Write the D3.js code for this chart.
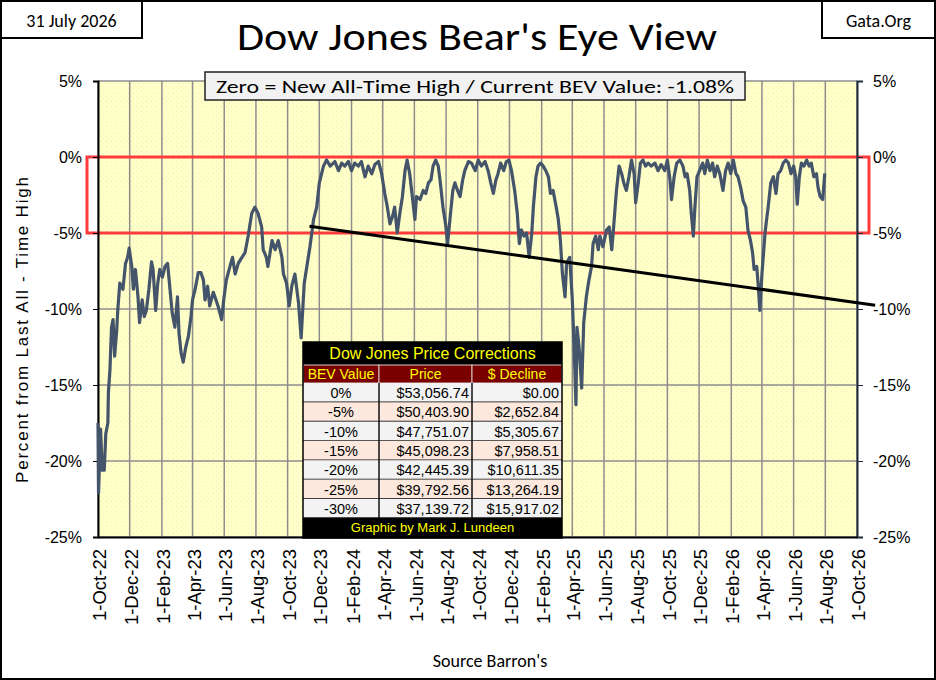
<!DOCTYPE html>
<html>
<head>
<meta charset="utf-8">
<script src="https://cdn.jsdelivr.net/npm/d3@7"></script>
<style>
  html, body { margin: 0; padding: 0; background: #fff; }
  svg { display: block; }
</style>
</head>
<body>
<svg id="chart" width="936" height="680"></svg>
<script>
// Bear's Eye View: percent below last all-time high
const bev2022 = [
  ["2022-10-01", -17.5], ["2022-10-02", -22.1], ["2022-10-06", -17.9], ["2022-10-09", -20.6],
  ["2022-10-13", -20.6], ["2022-10-16", -18.2], ["2022-10-20", -17.5], ["2022-10-21", -15.5],
  ["2022-10-24", -14.0], ["2022-10-27", -11.2], ["2022-10-30", -10.7], ["2022-11-02", -13.1],
  ["2022-11-06", -11.4], ["2022-11-08", -10.1], ["2022-11-12", -8.3], ["2022-11-18", -8.7],
  ["2022-11-23", -7.0], ["2022-11-27", -6.6], ["2022-11-30", -6.0], ["2022-12-05", -7.2],
  ["2022-12-08", -8.7], ["2022-12-12", -7.4], ["2022-12-17", -9.2], ["2022-12-20", -10.9],
  ["2022-12-25", -9.4], ["2022-12-29", -10.5]
];
const bev2023 = [
  ["2023-01-02", -10.1], ["2023-01-07", -8.7], ["2023-01-12", -6.9], ["2023-01-15", -7.4],
  ["2023-01-20", -10.1], ["2023-01-24", -8.3], ["2023-01-28", -7.4], ["2023-02-02", -7.9],
  ["2023-02-07", -7.2], ["2023-02-12", -7.0], ["2023-02-16", -8.5], ["2023-02-21", -10.3],
  ["2023-02-26", -11.2], ["2023-03-03", -9.2], ["2023-03-06", -11.6], ["2023-03-10", -12.9],
  ["2023-03-14", -13.5], ["2023-03-19", -12.5], ["2023-03-24", -11.8], ["2023-03-29", -10.5],
  ["2023-04-01", -9.4], ["2023-04-06", -8.7], ["2023-04-12", -7.6], ["2023-04-17", -7.6],
  ["2023-04-22", -8.1], ["2023-04-25", -9.4], ["2023-04-30", -8.5], ["2023-05-04", -9.8],
  ["2023-05-11", -8.9], ["2023-05-14", -9.2], ["2023-05-20", -9.8], ["2023-05-27", -10.7],
  ["2023-05-31", -9.4], ["2023-06-05", -8.1], ["2023-06-12", -7.2], ["2023-06-17", -6.6],
  ["2023-06-22", -7.7], ["2023-06-28", -7.0], ["2023-07-05", -6.6], ["2023-07-11", -6.3],
  ["2023-07-17", -5.2], ["2023-07-24", -3.7], ["2023-07-30", -3.3], ["2023-08-05", -3.7],
  ["2023-08-12", -4.6], ["2023-08-15", -6.1], ["2023-08-21", -6.6], ["2023-08-24", -7.2],
  ["2023-09-01", -5.5], ["2023-09-07", -6.1], ["2023-09-13", -5.5], ["2023-09-20", -6.6],
  ["2023-09-23", -7.7], ["2023-09-29", -8.3], ["2023-10-04", -9.8], ["2023-10-09", -8.5],
  ["2023-10-15", -7.7], ["2023-10-22", -9.6], ["2023-10-27", -11.9], ["2023-11-02", -8.3],
  ["2023-11-07", -7.2], ["2023-11-13", -5.9], ["2023-11-20", -4.1], ["2023-11-26", -3.3],
  ["2023-12-01", -1.7], ["2023-12-09", -0.6], ["2023-12-15", -0.2], ["2023-12-22", -0.6],
  ["2023-12-31", -0.3]
];
const bev2024 = [
  ["2024-01-07", -0.9], ["2024-01-13", -0.4], ["2024-01-19", -0.6], ["2024-01-26", -0.3],
  ["2024-02-01", -0.9], ["2024-02-07", -0.4], ["2024-02-14", -0.6], ["2024-02-20", -0.3],
  ["2024-02-27", -1.3], ["2024-03-04", -0.6], ["2024-03-11", -1.1], ["2024-03-17", -0.5],
  ["2024-03-24", -0.3], ["2024-03-30", -1.1], ["2024-04-05", -2.4], ["2024-04-10", -3.3],
  ["2024-04-15", -4.4], ["2024-04-20", -3.9], ["2024-04-24", -3.3], ["2024-04-29", -5.0],
  ["2024-05-04", -3.7], ["2024-05-09", -2.6], ["2024-05-14", -0.9], ["2024-05-18", -0.2],
  ["2024-05-23", -1.1], ["2024-05-28", -2.6], ["2024-06-02", -4.1], ["2024-06-05", -2.6],
  ["2024-06-12", -2.8], ["2024-06-18", -2.2], ["2024-06-23", -2.4], ["2024-06-28", -1.7],
  ["2024-07-03", -1.5], ["2024-07-07", -0.6], ["2024-07-12", -0.2], ["2024-07-17", -0.6],
  ["2024-07-21", -1.7], ["2024-07-26", -3.3], ["2024-07-31", -4.4], ["2024-08-04", -5.7],
  ["2024-08-09", -3.9], ["2024-08-14", -2.2], ["2024-08-18", -1.7], ["2024-08-23", -2.2],
  ["2024-08-28", -2.6], ["2024-09-02", -1.5], ["2024-09-06", -0.9], ["2024-09-13", -0.3],
  ["2024-09-19", -0.4], ["2024-09-26", -0.9], ["2024-10-02", -0.2], ["2024-10-08", -0.6],
  ["2024-10-15", -0.3], ["2024-10-21", -0.9], ["2024-10-26", -1.7], ["2024-10-31", -2.4],
  ["2024-11-05", -1.5], ["2024-11-09", -1.1], ["2024-11-14", -0.4], ["2024-11-20", -0.9],
  ["2024-11-25", -0.3], ["2024-11-30", -0.2], ["2024-12-05", -0.9], ["2024-12-11", -2.2],
  ["2024-12-16", -3.7], ["2024-12-20", -5.7], ["2024-12-24", -4.8], ["2024-12-29", -5.2]
];
const bev2025 = [
  ["2025-01-03", -5.0], ["2025-01-08", -6.6], ["2025-01-13", -5.0], ["2025-01-16", -3.3],
  ["2025-01-21", -1.3], ["2025-01-25", -0.6], ["2025-01-30", -0.4], ["2025-02-04", -0.6],
  ["2025-02-09", -0.9], ["2025-02-14", -1.3], ["2025-02-18", -2.4], ["2025-02-23", -2.2],
  ["2025-03-01", -3.3], ["2025-03-05", -4.1], ["2025-03-09", -5.5], ["2025-03-13", -7.7],
  ["2025-03-18", -9.2], ["2025-03-21", -7.0], ["2025-03-27", -6.6], ["2025-04-01", -9.4],
  ["2025-04-04", -12.0], ["2025-04-08", -16.3], ["2025-04-10", -11.2], ["2025-04-14", -12.5],
  ["2025-04-19", -15.2], ["2025-04-23", -10.9], ["2025-04-28", -9.2], ["2025-05-03", -8.1],
  ["2025-05-08", -7.2], ["2025-05-11", -5.7], ["2025-05-16", -5.2], ["2025-05-21", -6.1],
  ["2025-05-24", -5.2], ["2025-05-30", -5.9], ["2025-06-06", -4.8], ["2025-06-11", -4.6],
  ["2025-06-16", -6.1], ["2025-06-20", -4.4], ["2025-06-25", -2.2], ["2025-06-30", -0.6],
  ["2025-07-05", -1.1], ["2025-07-09", -1.7], ["2025-07-14", -2.2], ["2025-07-19", -1.3],
  ["2025-07-24", -0.2], ["2025-07-29", -1.1], ["2025-08-01", -3.0], ["2025-08-06", -1.7],
  ["2025-08-10", -0.4], ["2025-08-15", -0.2], ["2025-08-20", -0.6], ["2025-08-25", -0.4],
  ["2025-08-31", -0.6], ["2025-09-07", -0.4], ["2025-09-13", -0.9], ["2025-09-19", -0.5],
  ["2025-09-26", -0.9], ["2025-10-01", -0.2], ["2025-10-06", -1.5], ["2025-10-09", -2.8],
  ["2025-10-14", -1.3], ["2025-10-19", -0.4], ["2025-10-25", -0.2], ["2025-10-31", -0.6],
  ["2025-11-04", -1.3], ["2025-11-08", -1.1], ["2025-11-13", -2.2], ["2025-11-16", -3.7],
  ["2025-11-20", -5.2], ["2025-11-23", -3.3], ["2025-11-27", -1.3], ["2025-12-02", -0.9],
  ["2025-12-08", -0.4], ["2025-12-12", -1.1], ["2025-12-17", -0.2], ["2025-12-22", -0.9],
  ["2025-12-27", -0.4], ["2025-12-31", -1.3]
];
const bev2026 = [
  ["2026-01-05", -0.6], ["2026-01-10", -1.1], ["2026-01-16", -2.2], ["2026-01-21", -0.9],
  ["2026-01-26", -0.4], ["2026-01-31", -1.1], ["2026-02-05", -0.2], ["2026-02-10", -1.1],
  ["2026-02-14", -1.3], ["2026-02-19", -2.0], ["2026-02-24", -2.9], ["2026-03-01", -3.3],
  ["2026-03-05", -4.8], ["2026-03-10", -5.5], ["2026-03-14", -6.3], ["2026-03-17", -7.4],
  ["2026-03-22", -7.2], ["2026-03-25", -8.5], ["2026-03-28", -10.1], ["2026-04-01", -7.7],
  ["2026-04-03", -6.8], ["2026-04-07", -5.0], ["2026-04-10", -4.1], ["2026-04-13", -3.3],
  ["2026-04-18", -1.7], ["2026-04-23", -1.3], ["2026-04-28", -2.4], ["2026-05-02", -1.1],
  ["2026-05-07", -0.9], ["2026-05-12", -0.4], ["2026-05-17", -0.2], ["2026-05-22", -0.4],
  ["2026-05-27", -1.1], ["2026-06-01", -0.6], ["2026-06-05", -1.3], ["2026-06-08", -3.1],
  ["2026-06-12", -1.3], ["2026-06-16", -0.4], ["2026-06-21", -0.6], ["2026-06-26", -0.2],
  ["2026-07-01", -0.6], ["2026-07-05", -0.4], ["2026-07-10", -1.3], ["2026-07-15", -1.1],
  ["2026-07-18", -2.0], ["2026-07-22", -2.6], ["2026-07-27", -2.8], ["2026-07-31", -1.08]
];

// black trend line, two end points
const trendDates = ["2023-11-12", "2026-11-05"];
const trendValues = [-4.55, -9.75];

// axis settings
const axisStart = "2022-10-01";
const axisEnd = "2026-10-01";
const yTicks = [5, 0, -5, -10, -15, -20, -25];

// price corrections table
const bevLevels = ["0%", "-5%", "-10%", "-15%", "-20%", "-25%", "-30%"];
const bevPrices = ["$53,056.74", "$50,403.90", "$47,751.07", "$45,098.23", "$42,445.39", "$39,792.56", "$37,139.72"];
const bevDeclines = ["$0.00", "$2,652.84", "$5,305.67", "$7,958.51", "$10,611.35", "$13,264.19", "$15,917.02"];
const tableHeader = ["BEV Value", "Price", "$ Decline"];

const parse = d3.timeParse("%Y-%m-%d");
const series = [].concat(bev2022, bev2023, bev2024, bev2025, bev2026)
  .map(([d, v]) => ({ date: parse(d), value: v }));

const W = 936, H = 680;
const plot = { left: 98, right: 857, top: 81, bottom: 537 };
const calibri = "Carlito, Lato, 'Open Sans', sans-serif";
const arial = "'Liberation Sans', Arial, sans-serif";

const svg = d3.select("#chart");

const x = d3.scaleTime()
  .domain([parse(axisStart), parse(axisEnd)])
  .range([plot.left, plot.right]);
const y = d3.scaleLinear().domain([-25, 5]).range([plot.bottom, plot.top]);

// faint stipple like the spreadsheet's plot fill
const defs = svg.append("defs");
const dots = defs.append("pattern")
  .attr("id", "dots")
  .attr("width", 5)
  .attr("height", 5)
  .attr("patternUnits", "userSpaceOnUse");
dots.append("rect").attr("width", 5).attr("height", 5).attr("fill", "#FFFFC8");
dots.append("rect").attr("x", 1).attr("y", 1).attr("width", 1).attr("height", 1).attr("fill", "#F1EABD");
dots.append("rect").attr("x", 3).attr("y", 3).attr("width", 1).attr("height", 1).attr("fill", "#F4EEC4");

// outer frame
svg.append("rect")
  .attr("x", 1).attr("y", 1)
  .attr("width", W - 2).attr("height", H - 2)
  .attr("fill", "#fff")
  .attr("stroke", "#000")
  .attr("stroke-width", 2);

// corner boxes
function cornerBox(x0, w, label) {
  svg.append("rect")
    .attr("x", x0).attr("y", 1)
    .attr("width", w).attr("height", 37)
    .attr("fill", "#fff")
    .attr("stroke", "#000")
    .attr("stroke-width", 2);
  svg.append("text")
    .attr("x", x0 + w / 2).attr("y", 27)
    .attr("text-anchor", "middle")
    .style("font-family", calibri)
    .style("font-size", "18px")
    .text(label);
}
cornerBox(1, 141, "31 July 2026");
cornerBox(822, 113, "Gata.Org");

svg.append("text")
  .attr("x", 477).attr("y", 50)
  .attr("text-anchor", "middle")
  .attr("textLength", 480)
  .attr("lengthAdjust", "spacingAndGlyphs")
  .style("font-family", calibri)
  .style("font-size", "38px")
  .text("Dow Jones Bear's Eye View");

// plot area
svg.append("rect")
  .attr("x", plot.left).attr("y", plot.top)
  .attr("width", plot.right - plot.left)
  .attr("height", plot.bottom - plot.top)
  .attr("fill", "url(#dots)");

const xTicks = d3.timeMonth.range(x.domain()[0], d3.timeDay.offset(x.domain()[1], 1), 2);

const grid = svg.append("g").attr("class", "grid");
grid.selectAll("line.v")
  .data(xTicks)
  .join("line")
  .attr("class", "v")
  .attr("x1", (d) => x(d)).attr("x2", (d) => x(d))
  .attr("y1", plot.top).attr("y2", plot.bottom)
  .attr("stroke", "#8e8e8e")
  .attr("stroke-width", 1.5);
grid.selectAll("line.h")
  .data(yTicks)
  .join("line")
  .attr("class", "h")
  .attr("x1", plot.left).attr("x2", plot.right)
  .attr("y1", (d) => y(d)).attr("y2", (d) => y(d))
  .attr("stroke", "#8e8e8e")
  .attr("stroke-width", 1.5);

// red zone 0% .. -5%
svg.append("rect")
  .attr("x", plot.left - 11)
  .attr("y", y(0))
  .attr("width", plot.right - plot.left + 23)
  .attr("height", y(-5) - y(0))
  .attr("fill", "none")
  .attr("stroke", "#FF3B3B")
  .attr("stroke-width", 3);

// axes
const pct = (d) => d + "%";
const leftAxis = svg.append("g")
  .attr("transform", `translate(${plot.left},0)`)
  .call(d3.axisLeft(y).tickValues(yTicks).tickSize(5).tickPadding(11).tickFormat(pct));
const rightAxis = svg.append("g")
  .attr("transform", `translate(${plot.right},0)`)
  .call(d3.axisRight(y).tickValues(yTicks).tickSize(6).tickPadding(10).tickFormat(pct));
const bottomAxis = svg.append("g")
  .attr("transform", `translate(0,${plot.bottom})`)
  .call(d3.axisBottom(x).tickValues(xTicks).tickSize(0).tickFormat(d3.timeFormat("%-d-%b-%y")));

[leftAxis, rightAxis].forEach((g) => {
  g.selectAll("text")
    .style("font-family", arial)
    .style("font-size", "16px")
    .attr("fill", "#000");
  g.select(".domain").attr("stroke-width", 2);
});
leftAxis.select(".domain").attr("stroke", "#000");
leftAxis.selectAll(".tick line").attr("stroke", "#000");
rightAxis.select(".domain").attr("stroke", "#1d2b3a");
rightAxis.selectAll(".tick line").attr("stroke", "#1d2b3a");

bottomAxis.select(".domain").attr("stroke", "#000").attr("stroke-width", 2);
bottomAxis.selectAll("text")
  .attr("transform", "rotate(-90)")
  .attr("text-anchor", "end")
  .attr("x", -12)
  .attr("y", 1)
  .attr("dy", "0.36em")
  .style("font-family", arial)
  .style("font-size", "18.5px")
  .attr("fill", "#000");

// BEV series
const line = d3.line()
  .x((d) => x(d.date))
  .y((d) => y(d.value));

svg.append("path")
  .datum(series)
  .attr("d", line)
  .attr("fill", "none")
  .attr("stroke", "#44546A")
  .attr("stroke-width", 3.2)
  .attr("stroke-linejoin", "round");

// trend line
const trend = trendDates.map((d, i) => ({ date: parse(d), value: trendValues[i] }));
svg.append("path")
  .datum(trend)
  .attr("d", line)
  .attr("stroke", "#000")
  .attr("stroke-width", 3);

// subtitle box
svg.append("rect")
  .attr("x", 205).attr("y", 72)
  .attr("width", 540).attr("height", 28)
  .attr("fill", "#F2F2F2")
  .attr("stroke", "#222")
  .attr("stroke-width", 1.5);
svg.append("text")
  .attr("x", 475).attr("y", 93)
  .attr("text-anchor", "middle")
  .attr("textLength", 518)
  .attr("lengthAdjust", "spacingAndGlyphs")
  .style("font-family", calibri)
  .style("font-size", "19px")
  .text("Zero = New All-Time High / Current BEV Value: -1.08%");

// axis titles
svg.append("text")
  .attr("transform", "translate(28,330) rotate(-90)")
  .attr("text-anchor", "middle")
  .attr("textLength", 306)
  .attr("lengthAdjust", "spacing")
  .style("font-family", arial)
  .style("font-size", "17px")
  .text("Percent from Last All - Time High");

svg.append("text")
  .attr("x", 490).attr("y", 667)
  .attr("text-anchor", "middle")
  .style("font-family", calibri)
  .style("font-size", "18px")
  .text("Source Barron's");

// price corrections table
const tbl = { left: 303, right: 562, top: 342, titleH: 23, headH: 18, rowH: 19.3 };
const colEdges = [303, 379, 472, 562];
const table = svg.append("g").attr("class", "table");
const headTop = tbl.top + tbl.titleH;
const bodyTop = headTop + tbl.headH;
const footTop = bodyTop + tbl.rowH * bevLevels.length;

table.append("rect")
  .attr("x", tbl.left).attr("y", tbl.top)
  .attr("width", tbl.right - tbl.left).attr("height", tbl.titleH)
  .attr("fill", "#000");
table.append("text")
  .attr("x", (tbl.left + tbl.right) / 2).attr("y", tbl.top + 17)
  .attr("text-anchor", "middle")
  .style("font-family", arial)
  .style("font-size", "16px")
  .attr("fill", "#FFFF00")
  .text("Dow Jones Price Corrections");

table.selectAll("rect.head")
  .data(tableHeader)
  .join("rect")
  .attr("class", "head")
  .attr("x", (d, i) => colEdges[i])
  .attr("y", headTop)
  .attr("width", (d, i) => colEdges[i + 1] - colEdges[i])
  .attr("height", tbl.headH)
  .attr("fill", "#7A0000")
  .attr("stroke", "#d8c8c8")
  .attr("stroke-width", 1);
table.selectAll("text.head")
  .data(tableHeader)
  .join("text")
  .attr("class", "head")
  .attr("x", (d, i) => (colEdges[i] + colEdges[i + 1]) / 2)
  .attr("y", headTop + 14)
  .attr("text-anchor", "middle")
  .style("font-family", arial)
  .style("font-size", "14px")
  .attr("fill", "#FFFF00")
  .text((d) => d);

const rows = table.selectAll("g.row")
  .data(bevLevels.map((lvl, i) => ({ lvl, price: bevPrices[i], decline: bevDeclines[i], i })))
  .join("g")
  .attr("class", "row")
  .attr("transform", (d) => `translate(0,${bodyTop + d.i * tbl.rowH})`);
rows.append("rect")
  .attr("x", tbl.left).attr("width", tbl.right - tbl.left)
  .attr("height", tbl.rowH)
  .attr("fill", (d) => (d.i % 2 ? "#FCE8DC" : "#F3F3F3"));
rows.append("line")
  .attr("x1", tbl.left).attr("x2", tbl.right)
  .attr("y1", tbl.rowH).attr("y2", tbl.rowH)
  .attr("stroke", "#111")
  .attr("stroke-width", 1.5);
rows.append("text")
  .attr("x", (colEdges[0] + colEdges[1]) / 2).attr("y", 15)
  .attr("text-anchor", "middle")
  .text((d) => d.lvl);
rows.append("text")
  .attr("x", colEdges[2] - 3).attr("y", 15)
  .attr("text-anchor", "end")
  .text((d) => d.price);
rows.append("text")
  .attr("x", colEdges[3] - 3).attr("y", 15)
  .attr("text-anchor", "end")
  .text((d) => d.decline);
rows.selectAll("text")
  .style("font-family", arial)
  .style("font-size", "14.5px")
  .attr("fill", "#000");

table.selectAll("line.col")
  .data(colEdges.slice(1, 3))
  .join("line")
  .attr("class", "col")
  .attr("x1", (d) => d).attr("x2", (d) => d)
  .attr("y1", bodyTop).attr("y2", footTop)
  .attr("stroke", "#111")
  .attr("stroke-width", 1.5);

table.append("rect")
  .attr("x", tbl.left).attr("y", footTop)
  .attr("width", tbl.right - tbl.left).attr("height", plot.bottom - footTop + 1)
  .attr("fill", "#000");
table.append("text")
  .attr("x", (tbl.left + tbl.right) / 2).attr("y", footTop + 14)
  .attr("text-anchor", "middle")
  .style("font-family", arial)
  .style("font-size", "13px")
  .attr("fill", "#FFFF00")
  .text("Graphic by Mark J. Lundeen");
table.append("rect")
  .attr("x", tbl.left).attr("y", tbl.top)
  .attr("width", tbl.right - tbl.left).attr("height", plot.bottom - tbl.top + 1)
  .attr("fill", "none")
  .attr("stroke", "#000")
  .attr("stroke-width", 1.5);
</script>
</body>
</html>
